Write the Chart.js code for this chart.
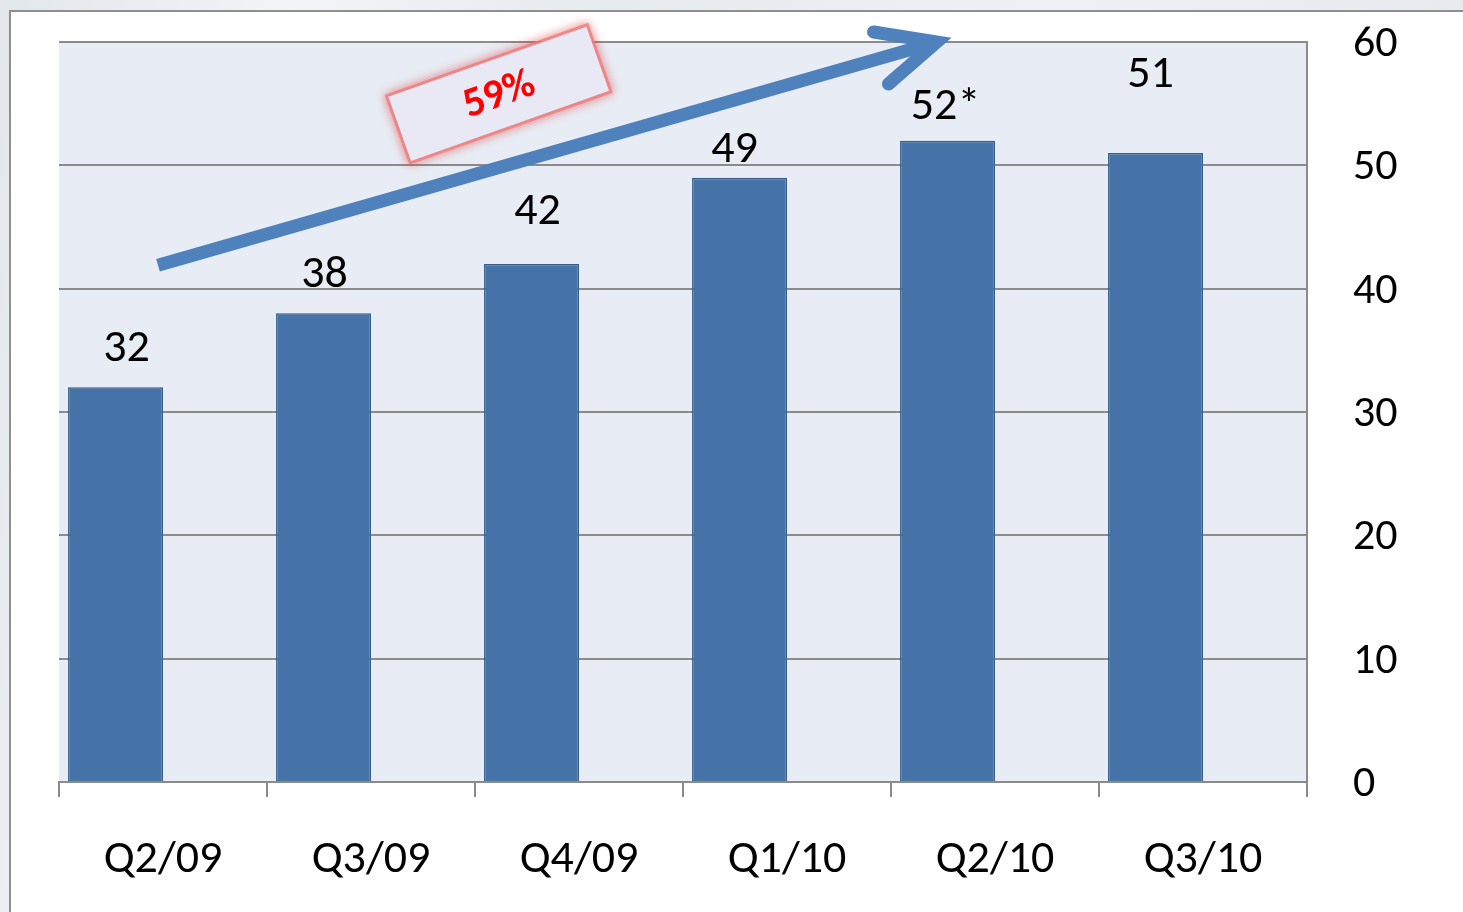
<!DOCTYPE html>
<html>
<head>
<meta charset="utf-8">
<title>Quarterly chart</title>
<script src="https://cdn.jsdelivr.net/npm/chart.js@4.4.1/dist/chart.umd.min.js"></script>
<style>
  html, body { margin: 0; padding: 0; width: 1463px; height: 912px; overflow: hidden; }
  body {
    position: relative;
    background: linear-gradient(100deg, #e3e6eb 0%, #f3f4f6 18%, #e7eaee 38%, #f0f1f4 65%, #e4e7ec 100%);
  }
  #frame {
    position: absolute; left: 9px; top: 10px; width: 1470px; height: 920px;
    background: #fff; border-left: 2px solid #8f8f8f; border-top: 2px solid #8f8f8f;
  }
  #wrap { position: absolute; left: 0; top: 0; width: 1463px; height: 912px; }
</style>
</head>
<body>
<div id="frame"></div>
<div id="wrap"><canvas id="chart"></canvas></div>
<script>
// ── Data ──────────────────────────────────────────────────────
const categories  = ['Q2/09', 'Q3/09', 'Q4/09', 'Q1/10', 'Q2/10', 'Q3/10'];
const values      = [32, 38, 42, 49, 52, 51];
const valueLabels = ['32', '38', '42', '49', '52*', '51'];
const yTicks      = [0, 10, 20, 30, 40, 50, 60];
const growthText  = '59%';

// ── Look ──────────────────────────────────────────────────────
const FONT      = "Carlito, Lato, 'Open Sans', sans-serif";
const BAR_FILL  = '#4572a7';
const BAR_EDGE  = '#385d8a';
const ARROW_COL = '#4f81bd';
const GRID_COL  = '#8b8b8b';
const PLOT_BG   = '#e8ecf4';

// value labels were dragged by hand in the original: height in axis units, sideways nudge in px
const labelAt = [35.1, 41.1, 46.2, 51.2, 54.7, 57.3];
const labelDx = [11, 1, 6, -5, -2, -5];
// arrow + badge, in (category index, value) units
const arrowFrom = [-0.024, 41.9];
const arrowTo   = [3.72, 60];
const badgeAt   = [1.614, 55.8];

// ── Plugins ───────────────────────────────────────────────────
const plotBg = {
  id: 'plotBg',
  beforeDraw(chart) {
    const { ctx, chartArea: a } = chart;
    ctx.save();
    ctx.fillStyle = PLOT_BG;
    ctx.fillRect(a.left, a.top, a.right - a.left, a.bottom - a.top);
    ctx.restore();
  },
};

const barLabels = {
  id: 'barLabels',
  afterDatasetsDraw(chart) {
    const { ctx, scales: { y } } = chart;
    const meta = chart.getDatasetMeta(0);
    ctx.save();
    ctx.font = '46px ' + FONT;
    ctx.fillStyle = '#000';
    ctx.textAlign = 'center';
    ctx.textBaseline = 'middle';
    meta.data.forEach((bar, i) => {
      ctx.fillText(valueLabels[i], bar.x + labelDx[i], y.getPixelForValue(labelAt[i]));
    });
    ctx.restore();
  },
};

const growth = {
  id: 'growth',
  afterDraw(chart) {
    const { ctx, scales: { x, y } } = chart;
    const x0 = x.getPixelForValue(arrowFrom[0]), y0 = y.getPixelForValue(arrowFrom[1]);
    const x1 = x.getPixelForValue(arrowTo[0]),   y1 = y.getPixelForValue(arrowTo[1]);
    const ang = Math.atan2(y1 - y0, x1 - x0);
    const head = 64, spread = 25 * Math.PI / 180;

    ctx.save();
    ctx.strokeStyle = ARROW_COL;
    ctx.lineWidth = 13;
    // shaft
    ctx.lineCap = 'butt';
    ctx.beginPath();
    ctx.moveTo(x0, y0);
    ctx.lineTo(x1 - Math.cos(ang) * 8, y1 - Math.sin(ang) * 8);
    ctx.stroke();
    // head
    ctx.lineCap = 'round';
    ctx.lineJoin = 'miter';
    ctx.beginPath();
    ctx.moveTo(x1 - Math.cos(ang - spread) * head, y1 - Math.sin(ang - spread) * head);
    ctx.lineTo(x1, y1);
    ctx.lineTo(x1 - Math.cos(ang + spread) * head, y1 - Math.sin(ang + spread) * head);
    ctx.stroke();
    ctx.restore();

    // badge
    const bx = x.getPixelForValue(badgeAt[0]), by = y.getPixelForValue(badgeAt[1]);
    const w = 210, h = 68;
    ctx.save();
    ctx.translate(bx, by);
    ctx.rotate(-19.5 * Math.PI / 180);
    ctx.shadowColor = 'rgba(225, 60, 60, 0.9)';
    ctx.shadowBlur = 10;
    ctx.strokeStyle = 'rgba(238, 125, 125, 0.8)';
    ctx.lineWidth = 6;
    ctx.strokeRect(-w / 2, -h / 2, w, h);
    ctx.shadowBlur = 0;
    ctx.shadowColor = 'transparent';
    ctx.fillStyle = '#e9e9f5';
    ctx.fillRect(-w / 2, -h / 2, w, h);
    ctx.fillStyle = '#ff0000';
    ctx.font = 'bold 42px ' + FONT;
    ctx.textAlign = 'center';
    ctx.textBaseline = 'middle';
    ctx.fillText(growthText, 0, 2);
    ctx.restore();
  },
};

// ── Chart ─────────────────────────────────────────────────────
new Chart(document.getElementById('chart'), {
  type: 'bar',
  data: {
    labels: categories,
    datasets: [
      {
        data: values,
        backgroundColor: BAR_FILL,
        borderColor: BAR_EDGE,
        borderWidth: 1.5,
        categoryPercentage: 0.913,
        barPercentage: 1,
      },
      {
        // empty partner series, keeps the bars on the left of each slot
        data: categories.map(() => null),
        categoryPercentage: 0.913,
        barPercentage: 1,
      },
    ],
  },
  options: {
    responsive: true,
    maintainAspectRatio: false,
    animation: false,
    layout: { padding: { left: 59, top: 42, right: 0, bottom: 0 } },
    plugins: { legend: { display: false }, tooltip: { enabled: false } },
    scales: {
      x: {
        grid: { display: true, drawOnChartArea: false, offset: true, color: GRID_COL, lineWidth: 2, tickLength: 15 },
        border: { display: true, color: GRID_COL, width: 2 },
        ticks: { color: '#000', font: { family: FONT, size: 46 }, padding: 36, maxRotation: 0, autoSkip: false },
        afterFit: (s) => { s.height = 130; s.paddingLeft = 0; s.paddingRight = 0; },
      },
      y: {
        position: 'right',
        min: yTicks[0],
        max: yTicks[yTicks.length - 1],
        afterBuildTicks: (s) => { s.ticks = yTicks.map((v) => ({ value: v })); },
        grid: { color: GRID_COL, lineWidth: 2, drawTicks: false },
        border: { display: true, color: GRID_COL, width: 2 },
        ticks: { color: '#000', font: { family: FONT, size: 44 }, padding: 46, labelOffset: 3 },
        afterFit: (s) => { s.width = 156; s.paddingTop = 0; s.paddingBottom = 0; },
      },
    },
  },
  plugins: [plotBg, barLabels, growth],
});
</script>
</body>
</html>
